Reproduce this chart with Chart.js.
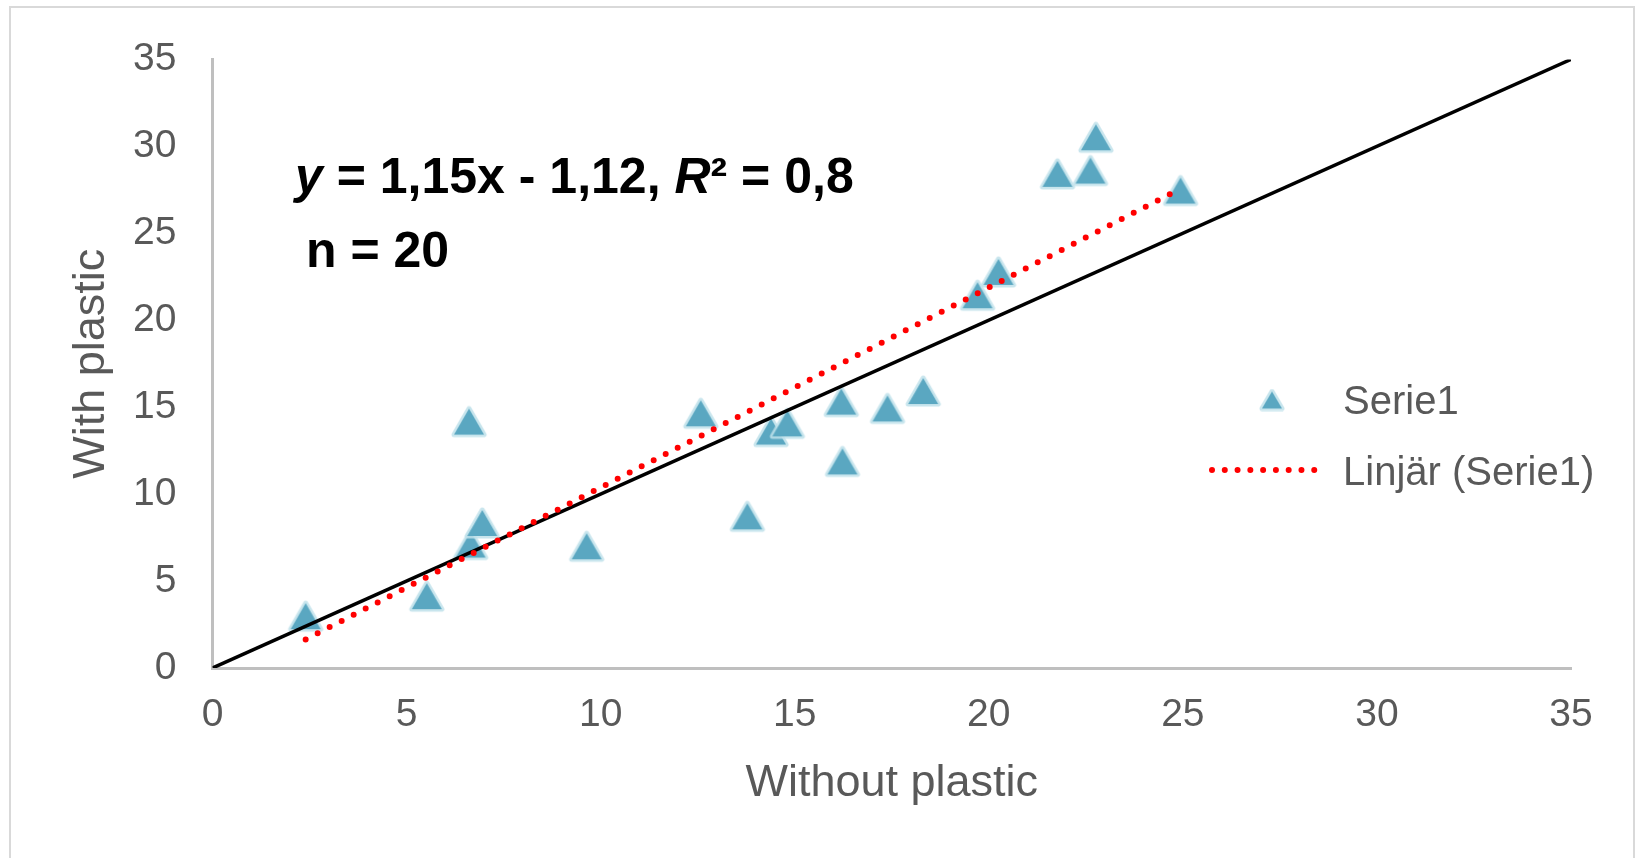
<!DOCTYPE html>
<html>
<head>
<meta charset="utf-8">
<title>With plastic vs without plastic</title>
<script src="https://cdn.jsdelivr.net/npm/chart.js@4.4.1/dist/chart.umd.min.js"></script>
<style>
  html, body { margin: 0; padding: 0; background: #fff; overflow: hidden; }
  #frame { position: absolute; left: 9px; top: 6px; width: 1622px; height: 900px; border: 2px solid #d9d9d9; }
  #chart { position: absolute; left: 0; top: 0; }
</style>
</head>
<body>
<div id="frame"></div>
<canvas id="chart" width="1644" height="858"></canvas>
<script>
// values (20 samples)
const withoutPlastic = [2.4, 5.52, 6.61, 6.65, 6.95, 9.64, 12.58, 13.78, 14.39, 14.81, 16.2, 16.23, 17.39, 18.31, 19.71, 20.25, 21.77, 22.62, 22.76, 24.94];
const withPlastic = [2.98, 4.13, 14.17, 7.1, 8.34, 7.0, 14.65, 8.72, 13.6, 14.07, 15.32, 11.88, 14.93, 15.93, 21.44, 22.78, 28.42, 28.61, 30.52, 27.46];
const axisTicks = [0, 5, 10, 15, 20, 25, 30, 35];

// trendline as printed on the chart
const slope = 1.15;
const intercept = -1.12;
const rSquared = 0.8;

const seriesName = 'Serie1';
const trendName = 'Linjär (Serie1)';
const xTitle = 'Without plastic';
const yTitle = 'With plastic';

const FONT = '"Liberation Sans", Arial, sans-serif';
const GREY_TEXT = '#595959';

Chart.defaults.font.family = FONT;
Chart.defaults.color = GREY_TEXT;

// triangle marker, centred on its box like the Excel one
function makeTriangle(w, h, pad) {
    const c = document.createElement('canvas');
    c.width = w + pad * 2;
    c.height = h + pad * 2;
    const g = c.getContext('2d');
    g.beginPath();
    g.moveTo(c.width / 2, pad);
    g.lineTo(c.width - pad, pad + h);
    g.lineTo(pad, pad + h);
    g.closePath();
    g.lineJoin = 'round';
    g.lineWidth = 5;
    g.strokeStyle = 'rgba(190, 224, 234, 0.85)';
    g.stroke();
    g.fillStyle = '#5aa7c1';
    g.fill();
    return c;
}

const dataTri = makeTriangle(30, 26, 4);
const legendTri = makeTriangle(20, 17, 3);

const points = withoutPlastic.map((x, i) => ({ x: x, y: withPlastic[i] }));

const xMin = Math.min(...withoutPlastic);
const xMax = Math.max(...withoutPlastic);
const trendPoints = [xMin, xMax].map(x => ({ x: x, y: slope * x + intercept }));

const lo = axisTicks[0];
const hi = axisTicks[axisTicks.length - 1];
const identityLine = [{ x: lo, y: lo }, { x: hi, y: hi }];

const comma = v => String(v).replace('.', ',');

// equation text and legend, drawn on top of the plot
const notes = {
    id: 'notes',
    afterDraw(chart) {
        const ctx = chart.ctx;
        ctx.save();
        ctx.textAlign = 'left';
        ctx.textBaseline = 'alphabetic';
        ctx.fillStyle = '#000';

        const parts = [
            ['italic bold', 'y'],
            ['bold', ' = ' + comma(slope) + 'x - ' + comma(Math.abs(intercept)) + ', '],
            ['italic bold', 'R'],
            ['bold', '² = ' + comma(rSquared)]
        ];
        let x = 295;
        parts.forEach(([style, txt]) => {
            ctx.font = style + ' 50px ' + FONT;
            ctx.fillText(txt, x, 193);
            x += ctx.measureText(txt).width;
        });
        ctx.font = 'bold 50px ' + FONT;
        ctx.fillText('n = ' + withoutPlastic.length, 306, 267);

        // legend
        ctx.drawImage(legendTri, 1272 - legendTri.width / 2, 400 - legendTri.height / 2);
        ctx.font = '40px ' + FONT;
        ctx.fillStyle = GREY_TEXT;
        ctx.fillText(seriesName, 1343, 414);

        const trend = chart.data.datasets[0];
        ctx.strokeStyle = trend.borderColor;
        ctx.lineWidth = trend.borderWidth;
        ctx.lineCap = 'round';
        ctx.setLineDash([0, 12.78]);
        ctx.beginPath();
        ctx.moveTo(1212, 470);
        ctx.lineTo(1327, 470);
        ctx.stroke();
        ctx.setLineDash([]);
        ctx.fillText(trendName, 1343, 485);
        ctx.restore();
    }
};

const setTicks = scale => { scale.ticks = axisTicks.map(v => ({ value: v })); };

const chart = new Chart(document.getElementById('chart'), {
    type: 'scatter',
    data: {
        datasets: [
            {
                type: 'line',
                label: trendName,
                data: trendPoints,
                borderColor: '#ff0000',
                borderWidth: 6,
                borderDash: [0, 13.5],
                borderCapStyle: 'round',
                pointRadius: 0,
                fill: false,
                order: 0
            },
            {
                type: 'line',
                label: '1:1',
                data: identityLine,
                borderColor: '#000000',
                borderWidth: 3.5,
                pointRadius: 0,
                fill: false,
                order: 1
            },
            {
                label: seriesName,
                data: points,
                pointStyle: dataTri,
                pointRadius: 15,
                order: 2
            }
        ]
    },
    options: {
        responsive: false,
        animation: false,
        layout: { padding: { left: 10, top: 57, right: 73, bottom: 0 } },
        plugins: {
            legend: { display: false },
            tooltip: { enabled: false }
        },
        scales: {
            x: {
                type: 'linear',
                min: lo,
                max: hi,
                afterBuildTicks: setTicks,
                afterFit: s => { s.height = 190; },
                grid: { display: false, drawTicks: false },
                border: { color: '#bfbfbf', width: 3 },
                ticks: { font: { size: 39 }, color: GREY_TEXT, padding: 24, maxRotation: 0 },
                title: {
                    display: true,
                    text: xTitle,
                    font: { size: 45 },
                    color: GREY_TEXT,
                    padding: { top: 0, bottom: 47 }
                }
            },
            y: {
                type: 'linear',
                min: lo,
                max: hi,
                afterBuildTicks: setTicks,
                afterFit: s => { s.width = 202.5; },
                grid: { display: false, drawTicks: false },
                border: { color: '#bfbfbf', width: 3 },
                ticks: { font: { size: 39 }, color: GREY_TEXT, padding: 36 },
                title: {
                    display: true,
                    text: yTitle,
                    font: { size: 45 },
                    color: GREY_TEXT,
                    padding: { top: 55, bottom: 0 }
                }
            }
        }
    },
    plugins: [notes]
});
</script>
</body>
</html>
